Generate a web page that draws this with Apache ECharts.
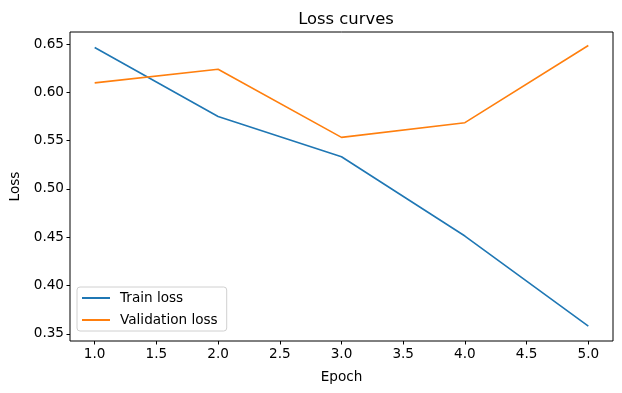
<!DOCTYPE html>
<html><head><meta charset="utf-8">
<script src="https://cdn.jsdelivr.net/npm/echarts@6/dist/echarts.min.js"></script>
<style>html,body{margin:0;padding:0;background:#fff}#c{width:622px;height:393px}</style>
</head><body><div id="c"></div>
<script>
const epochs = [1, 2, 3, 4, 5];
const trainLoss = [0.6465, 0.575, 0.5333, 0.4512, 0.3579];
const valLoss = [0.6098, 0.624, 0.5534, 0.5686, 0.6485];
const xTicks = [1.0, 1.5, 2.0, 2.5, 3.0, 3.5, 4.0, 4.5, 5.0];
const yTicks = [0.35, 0.40, 0.45, 0.50, 0.55, 0.60, 0.65];

const font = 'DejaVu Sans';
const fs = 13.6;
const chart = echarts.init(document.getElementById('c'), null, {renderer: 'canvas'});
chart.setOption({
  animation: false,
  backgroundColor: '#fff',
  title: {
    text: 'Loss curves', left: 341, top: 7, textAlign: 'center',
    textStyle: {fontFamily: font, fontSize: 16.4, fontWeight: 'normal', color: '#000'}
  },
  grid: {left: 70, right: 9, top: 32, bottom: 52, show: true, borderColor: '#000', borderWidth: 1, containLabel: false},
  legend: {
    orient: 'vertical', left: 77, top: 287,
    data: ['Train loss', 'Validation loss'],
    icon: 'rect', itemWidth: 28, itemHeight: 2, itemGap: 8,
    textStyle: {fontFamily: font, fontSize: fs, color: '#000', padding: [0, 0, 0, 5]},
    borderColor: '#d0d0d0', borderWidth: 1, borderRadius: 3,
    backgroundColor: 'rgba(255,255,255,0.8)',
    padding: [4, 9, 4, 5]
  },
  xAxis: {
    type: 'value', min: 0.8, max: 5.2,
    name: 'Epoch', nameLocation: 'middle', nameGap: 29,
    nameTextStyle: {fontFamily: font, fontSize: fs, color: '#000'},
    axisLine: {show: false},
    axisTick: {show: true, length: 3.5, lineStyle: {color: '#000'}, customValues: xTicks},
    axisLabel: {customValues: xTicks, formatter: v => v.toFixed(1), fontFamily: font, fontSize: fs, color: '#000', margin: 6},
    splitLine: {show: false}
  },
  yAxis: {
    type: 'value', min: 0.3425, max: 0.6625,
    name: 'Loss', nameLocation: 'middle', nameGap: 45, nameRotate: 90,
    nameTextStyle: {fontFamily: font, fontSize: fs, color: '#000'},
    axisLine: {show: false},
    axisTick: {show: true, length: 3.5, lineStyle: {color: '#000'}, customValues: yTicks},
    axisLabel: {customValues: yTicks, formatter: v => v.toFixed(2), fontFamily: font, fontSize: fs, color: '#000', margin: 6},
    splitLine: {show: false}
  },
  series: [
    {name: 'Train loss', type: 'line', data: epochs.map((e, i) => [e, trainLoss[i]]),
     showSymbol: false, symbol: 'none', lineStyle: {color: '#1f77b4', width: 1.6}, itemStyle: {color: '#1f77b4'}},
    {name: 'Validation loss', type: 'line', data: epochs.map((e, i) => [e, valLoss[i]]),
     showSymbol: false, symbol: 'none', lineStyle: {color: '#ff7f0e', width: 1.6}, itemStyle: {color: '#ff7f0e'}}
  ]
});
</script></body></html>
